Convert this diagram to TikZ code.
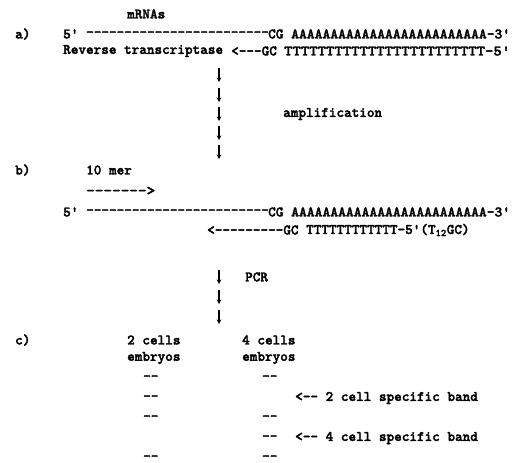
\documentclass[tikz,border=0pt]{standalone}
\usepackage{fontspec}
% heavy typewriter face for all the typed lines
\newfontfamily\typew{lmmonolt10-bold}[Extension=.otf, FakeBold=2.2]
\usetikzlibrary{arrows.meta}
% stretch a piece of typed text to a given width, keeping its height
\newcommand\fitto[2]{\resizebox{#1pt}{\height}{#2}}
\begin{document}
\begin{tikzpicture}[x=1pt,y=-1pt,
  txt/.style={inner sep=0pt, anchor=west, font=\typew\fontsize{14.5}{17}\selectfont},
  down/.style={line width=1.2pt, -{Stealth[length=4.5pt,width=4.5pt]}}]
\useasboundingbox (0,0) rectangle (512,463);

% ---- a) first strand synthesis
\node[txt] (mrna) at (127,14) {mRNAs};
\node[txt] (lbla) at (15,34) {a)};
\node[txt] (a5) at (63,34) {5'};
\node[txt] (adash) at (86,34) {------------------------};
\node[txt] (acg) at (268,34) {CG};
\node[txt] (apoly) at (291,34) {\fitto{219}{AAAAAAAAAAAAAAAAAAAAAAAAA-3'}};
\node[txt] (rt) at (63,51) {Reverse transcriptase};
\node[txt] (agc) at (231,51) {<---GC};
\node[txt] (atail) at (284,51) {\fitto{226}{TTTTTTTTTTTTTTTTTTTTTTTT-5'}};

\foreach \i/\yy in {1/75,2/95,3/114,4/133,5/152} {
  \coordinate (as\i) at (219,\yy-7);
  \coordinate (ae\i) at (219,\yy+7);
  \draw[down] (as\i) -- (ae\i);
}
\node[txt] (amp) at (283,114) {amplification};

% ---- b) PCR with arbitrary 10-mer and anchored oligo-dT
\node[txt] (lblb) at (15,170) {b)};
\node[txt] (mer) at (86,170) {10 mer};
\node[txt] (prim) at (86,191) {\fitto{69}{------->}};
\node[txt] (b5) at (63,212) {5'};
\node[txt] (bdash) at (86,212) {------------------------};
\node[txt] (bcg) at (268,212) {CG};
\node[txt] (bpoly) at (291,212) {\fitto{219}{AAAAAAAAAAAAAAAAAAAAAAAAA-3'}};
\node[txt] (bgc) at (207,230) {<---------GC};
\node[txt] (btail) at (306,230) {TTTTTTTTTTTT-5'(T\textsubscript{12}GC)};

\foreach \i/\yy in {1/277,2/297,3/317} {
  \coordinate (cs\i) at (219,\yy-7);
  \coordinate (ce\i) at (219,\yy+7);
  \draw[down] (cs\i) -- (ce\i);
}
\node[txt] (pcr) at (245,277) {PCR};

% ---- c) display of the bands
\node[txt] (lblc) at (15,340) {c)};
\node[txt] (two) at (127,340) {2 cells};
\node[txt] (twoe) at (127,358) {embryos};
\node[txt] (four) at (242,340) {4 cells};
\node[txt] (foure) at (242,358) {embryos};
\foreach \yy [count=\i] in {378,398,418,458}
  \node[txt] (l2b\i) at (143,\yy) {--};
\foreach \yy [count=\i] in {378,418,438,458}
  \node[txt] (l4b\i) at (262,\yy) {--};
\node[txt] (m2) at (295,398) {<-- 2 cell specific band};
\node[txt] (m4) at (295,438) {<-- 4 cell specific band};
\end{tikzpicture}
\end{document}
